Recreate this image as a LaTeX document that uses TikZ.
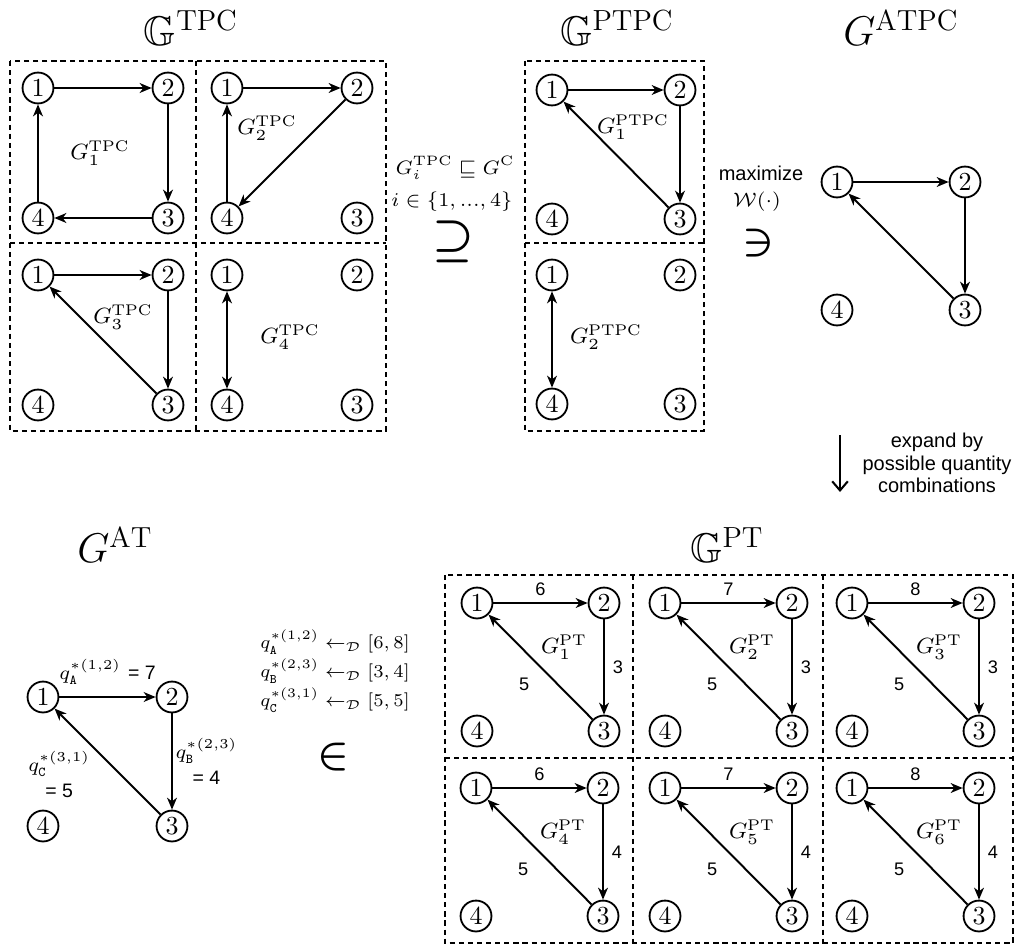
\RequirePackage{fix-cm}
\documentclass[tikz,border=0pt]{standalone}
\usepackage{amsmath,amssymb}
\usepackage{fontspec}
\setsansfont{Liberation Sans}
\usetikzlibrary{arrows.meta}
\begin{document}
\begin{tikzpicture}[x=0.385pt, y=-0.385pt,
    vtx/.style={circle, draw, line width=0.7pt, minimum size=11.9pt, inner sep=0pt, font=\fontsize{10}{12}\selectfont},
    arrow/.style={-{Stealth[length=4.6pt, width=3.8pt, inset=1.4pt]}, line width=0.75pt},
    twoway/.style={{Stealth[length=4.6pt, width=3.8pt, inset=1.4pt]}-{Stealth[length=4.6pt, width=3.8pt, inset=1.4pt]}, line width=0.75pt},
    expandarrow/.style={-{Straight Barb[length=3.5pt, width=6pt]}, line width=0.8pt},
    cell/.style={dash pattern=on 2pt off 1.5pt, line width=0.45pt},
    ttl/.style={font=\fontsize{16}{19}\selectfont},
    glabel/.style={font=\fontsize{8.5}{10}\selectfont, inner sep=1pt},
    num/.style={font=\sffamily\fontsize{7}{8}\selectfont, inner sep=1.5pt},
    note/.style={font=\sffamily\fontsize{7.7}{8.7}\selectfont, align=center},
    mathlbl/.style={font=\fontsize{7.5}{11.2}\selectfont, align=center},
    symb/.style={font=\fontsize{18}{20}\selectfont\boldmath},
]
\useasboundingbox (0,0) rectangle (1019,945);

\node[ttl] (ttpc) at (191,28) {$\mathbb{G}^{\mathrm{TPC}}$};
\draw[cell] (10,61) rectangle (386,431);
\draw[cell] (196,61) -- (196,431);
\draw[cell] (10,243) -- (386,243);
\foreach \c/\x/\y in {1/38/88, 2/227/88, 3/38/275, 4/227/275} {
    \node[vtx] (tpc\c-1) at (\x,\y) {1};
    \node[vtx] (tpc\c-2) at (\x+130,\y) {2};
    \node[vtx] (tpc\c-3) at (\x+130,\y+130) {3};
    \node[vtx] (tpc\c-4) at (\x,\y+130) {4};
}
\draw[arrow] (tpc1-1) -- (tpc1-2);
\draw[arrow] (tpc1-2) -- (tpc1-3);
\draw[arrow] (tpc1-3) -- (tpc1-4);
\draw[arrow] (tpc1-4) -- (tpc1-1);
\draw[arrow] (tpc2-1) -- (tpc2-2);
\draw[arrow] (tpc2-2) -- (tpc2-4);
\draw[arrow] (tpc2-4) -- (tpc2-1);
\draw[arrow] (tpc3-1) -- (tpc3-2);
\draw[arrow] (tpc3-2) -- (tpc3-3);
\draw[arrow] (tpc3-3) -- (tpc3-1);
\draw[twoway] (tpc4-1) -- (tpc4-4);
\node[glabel] (gtpc1) at (100,153) {$G_1^{\mathrm{TPC}}$};
\node[glabel] (gtpc2) at (267,128) {$G_2^{\mathrm{TPC}}$};
\node[glabel] (gtpc3) at (123,317) {$G_3^{\mathrm{TPC}}$};
\node[glabel] (gtpc4) at (290,337) {$G_4^{\mathrm{TPC}}$};

\node[mathlbl] (sub) at (455,168) {$G_i^{\mathrm{TPC}} \sqsubseteq G^{\mathrm{C}}$};
\node[mathlbl] (idx) at (452,202) {$i \in \{1, ..., 4\}$};
\node[symb] (supset) at (453,242) {$\supseteq$};

\node[ttl] (tptpc) at (617,28) {$\mathbb{G}^{\mathrm{PTPC}}$};
\draw[cell] (525,61) rectangle (704,431);
\draw[cell] (525,243) -- (704,243);
\foreach \c/\y in {1/90, 2/275} {
    \node[vtx] (ptpc\c-1) at (552,\y) {1};
    \node[vtx] (ptpc\c-2) at (680,\y) {2};
    \node[vtx] (ptpc\c-3) at (680,\y+129) {3};
    \node[vtx] (ptpc\c-4) at (552,\y+129) {4};
}
\draw[arrow] (ptpc1-1) -- (ptpc1-2);
\draw[arrow] (ptpc1-2) -- (ptpc1-3);
\draw[arrow] (ptpc1-3) -- (ptpc1-1);
\draw[twoway] (ptpc2-1) -- (ptpc2-4);
\node[glabel] (gptpc1) at (633,127) {$G_1^{\mathrm{PTPC}}$};
\node[glabel] (gptpc2) at (606,337) {$G_2^{\mathrm{PTPC}}$};

\node[note] (maxi) at (761,173) {maximize};
\node[mathlbl] (wfun) at (757,202) {$\mathcal{W}(\cdot)$};
\node[symb, font=\fontsize{16}{18}\selectfont\boldmath] (owns) at (758,243) {$\ni$};

\node[ttl] (tatpc) at (901,28) {$G^{\mathrm{ATPC}}$};
\node[vtx] (atpc-1) at (837,182) {1};
\node[vtx] (atpc-2) at (965,182) {2};
\node[vtx] (atpc-3) at (965,310) {3};
\node[vtx] (atpc-4) at (837,310) {4};
\draw[arrow] (atpc-1) -- (atpc-2);
\draw[arrow] (atpc-2) -- (atpc-3);
\draw[arrow] (atpc-3) -- (atpc-1);

\coordinate (ex1) at (840,435);
\coordinate (ex2) at (840,492);
\draw[expandarrow] (ex1) -- (ex2);
\node[note] (expand) at (937,463) {expand by\\possible quantity\\combinations};

\node[ttl] (tat) at (115,545) {$G^{\mathrm{AT}}$};
\node[vtx] (at-1) at (43,697) {1};
\node[vtx] (at-2) at (172,697) {2};
\node[vtx] (at-3) at (172,826) {3};
\node[vtx] (at-4) at (43,826) {4};
\draw[arrow] (at-1) -- (at-2) node[midway, above=1pt, mathlbl] {$q_{\mathtt{A}}^{*(1,2)}$ \textsf{= 7}};
\draw[arrow] (at-2) -- (at-3) node[midway, right=0pt, inner sep=1pt, mathlbl, font=\fontsize{7.5}{10}\selectfont] {$q_{\mathtt{B}}^{*(2,3)}$\\\textsf{= 4}};
\draw[arrow] (at-3) -- (at-1) node[midway, left, xshift=-3pt, yshift=-5pt, mathlbl, font=\fontsize{7.5}{10}\selectfont] {$q_{\mathtt{C}}^{*(3,1)}$\\\textsf{= 5}};

\node[mathlbl, align=left, font=\fontsize{7}{11.2}\selectfont] (rules) at (335,671) {$q_{\mathtt{A}}^{*(1,2)} \leftarrow_{\mathcal{D}} [6,8]$\\$q_{\mathtt{B}}^{*(2,3)} \leftarrow_{\mathcal{D}} [3,4]$\\$q_{\mathtt{C}}^{*(3,1)} \leftarrow_{\mathcal{D}} [5,5]$};
\node[symb, font=\fontsize{16}{18}\selectfont\boldmath] (elem) at (333,757) {$\in$};

\node[ttl] (tpt) at (727,545) {$\mathbb{G}^{\mathrm{PT}}$};
\draw[cell] (445,575) rectangle (1013,943);
\draw[cell] (633,575) -- (633,943);
\draw[cell] (823,575) -- (823,943);
\draw[cell] (445,758) -- (1013,758);
\foreach \c/\x/\y/\a/\b in {1/477/603/6/3, 2/665/603/7/3, 3/852/603/8/3, 4/476/788/6/4, 5/665/788/7/4, 6/852/788/8/4} {
    \node[vtx] (pt\c-1) at (\x,\y) {1};
    \node[vtx] (pt\c-2) at (\x+127,\y) {2};
    \node[vtx] (pt\c-3) at (\x+127,\y+128) {3};
    \node[vtx] (pt\c-4) at (\x,\y+128) {4};
    \draw[arrow] (pt\c-1) -- (pt\c-2) node[midway, above=1pt, num] {\a};
    \draw[arrow] (pt\c-2) -- (pt\c-3) node[midway, right=1.5pt, num] {\b};
    \draw[arrow] (pt\c-3) -- (pt\c-1) node[midway, below left=2.5pt, num] {5};
    \node[glabel] (gpt\c) at (\x+87,\y+44) {$G_{\c}^{\mathrm{PT}}$};
}
\end{tikzpicture}
\end{document}
